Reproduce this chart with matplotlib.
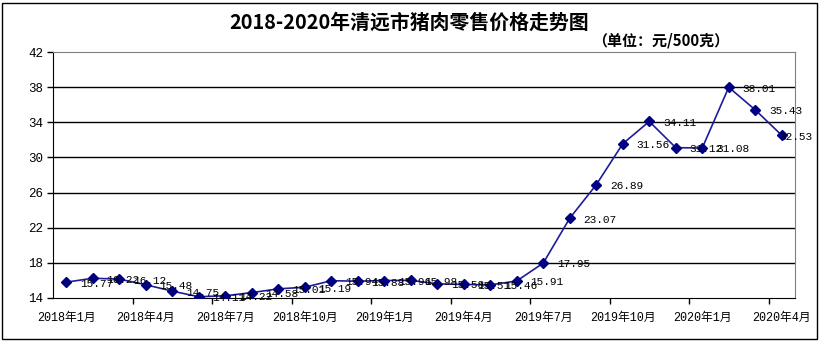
import matplotlib
matplotlib.use('Agg')
import matplotlib.pyplot as plt
from matplotlib.patches import Rectangle

months = ['2018年1月', '2018年2月', '2018年3月', '2018年4月', '2018年5月', '2018年6月',
          '2018年7月', '2018年8月', '2018年9月', '2018年10月', '2018年11月', '2018年12月',
          '2019年1月', '2019年2月', '2019年3月', '2019年4月', '2019年5月', '2019年6月',
          '2019年7月', '2019年8月', '2019年9月', '2019年10月', '2019年11月', '2019年12月',
          '2020年1月', '2020年2月', '2020年3月', '2020年4月']
prices = [15.77, 16.22, 16.12, 15.48, 14.75, 14.11,
          14.22, 14.58, 15.01, 15.19, 15.94, 15.88,
          15.96, 15.98, 15.58, 15.51, 15.46, 15.91,
          17.95, 23.07, 26.89, 31.56, 34.11, 31.12,
          31.08, 38.01, 35.43, 32.53]
yticks = [14, 18, 22, 26, 30, 34, 38, 42]

title = '2018-2020年清远市猪肉零售价格走势图'
unit = '（单位：元/500克）'

W, H = 819, 342
fig = plt.figure(figsize=(W / 100, H / 100), dpi=100)
fig.patch.set_facecolor('white')

# frame round the whole chart
fig.patches.append(Rectangle((2 / W, 3 / H), 815 / W, 336 / H, transform=fig.transFigure,
                             fill=False, edgecolor='black', linewidth=1.0))

ax = fig.add_axes([53 / W, 1 - 297.7 / H, 742 / W, 245.4 / H])
x = list(range(len(prices)))

for y in yticks[1:-1]:
    ax.axhline(y, color='black', linewidth=1.0, zorder=1)

ax.plot(x, prices, color='#1c1c9c', linewidth=1.2, zorder=2)
ax.plot(x, prices, linestyle='none', marker='D', markersize=5,
        markerfacecolor='#000080', markeredgecolor='#000080', zorder=3)

mono = ['Liberation Mono', 'Noto Sans CJK SC']
for xi, v in zip(x, prices):
    # last label sits back over its own point, as in the original
    dx = 10 if xi < len(prices) - 1 else -2
    ax.annotate(f'{v:.2f}', (xi, v), xytext=(dx, -1), textcoords='offset points',
                ha='left', va='center', fontsize=8, family=mono, color='black',
                zorder=4, annotation_clip=False)

ax.set_xlim(-0.5, len(prices) - 0.5)
ax.set_ylim(14, 42)
ax.set_yticks(yticks)
ax.set_yticklabels([str(t) for t in yticks], family=mono, fontsize=9)

ax.set_xticks(x[::3])
ax.set_xticklabels(months[::3], family=mono, fontsize=8.5)
ax.set_xticks([i + 0.5 for i in range(2, len(prices) - 1, 3)], minor=True)
ax.tick_params(axis='x', which='major', length=0, pad=10)
ax.tick_params(axis='x', which='minor', length=4, width=1, color='black', direction='out')
ax.tick_params(axis='y', length=4, width=1, color='black', direction='out', pad=3)

ax.spines['top'].set_color('#808080')
ax.spines['right'].set_color('#808080')
ax.spines['left'].set_color('black')
ax.spines['bottom'].set_color('black')

fig.text(409 / W, 1 - 22 / H, title, ha='center', va='center', fontsize=14.3,
         fontweight='bold', family=['Noto Sans CJK SC', 'DejaVu Sans'])
fig.text(661 / W, 1 - 40 / H, unit, ha='center', va='center', fontsize=10.8,
         fontweight='bold', family=['Noto Sans CJK SC', 'DejaVu Sans'])

fig.savefig('out.png', dpi=100)
